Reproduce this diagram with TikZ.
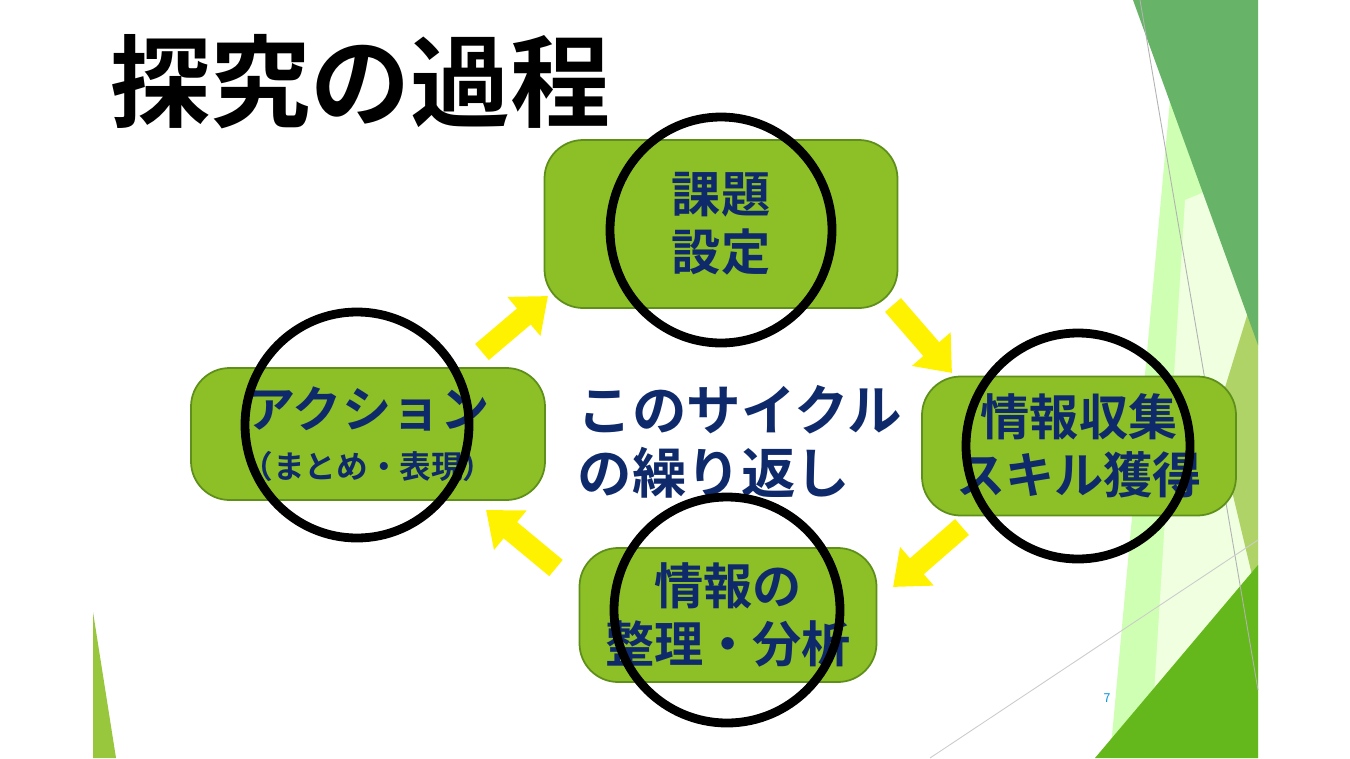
\documentclass[tikz,border=0pt]{standalone}
\usepackage{fontspec}
\setmainfont{Noto Sans CJK JP}[BoldFont={* Bold}]
\usetikzlibrary{arrows.meta}
\definecolor{boxgreen}{HTML}{8DC026}
\definecolor{boxline}{HTML}{5E8F1A}
\definecolor{navy}{HTML}{0F2A6A}
\tikzset{
  stepbox/.style={draw=boxline,fill=boxgreen,rounded corners=22pt,line width=1pt,
    text=navy,font=\bfseries\fontsize{28}{33}\selectfont,align=center,inner sep=0pt},
  ring/.style={draw=black,line width=5pt},
  cyclearrow/.style={yellow,line width=12pt,-{Triangle[length=18pt,width=28pt]}}
}
\begin{document}
\begin{tikzpicture}[x=0.02cm,y=-0.02cm]
    \useasboundingbox (0,0) rectangle (1350,758);
    % background
    \fill[white] (0,0) rectangle (1350,758);
    \fill[green!50!lime!30!white] (1170,100) -- (1258,280) -- (1258,758) -- (1110,758) -- cycle;
    \fill[green!35!lime!12!white] (1185,200) -- (1258,170) -- (1258,758) -- (1150,758) -- cycle;
    \fill[boxgreen!70!white] (1215,420) -- (1258,280) -- (1258,600) -- cycle;
    \fill[green!40!black!55!white!90!green] (1133,0) -- (1258,0) -- (1258,345) -- cycle;
    \fill[boxgreen!80!green!90!black] (1095,758) -- (1258,565) -- (1258,758) -- cycle;
    \fill[boxgreen!90!white] (93,612) -- (116,758) -- (93,758) -- cycle;
    \draw[gray!60,line width=.5pt] (1140,0) -- (1258,690);
    \draw[gray!40,line width=.5pt] (930,758) -- (1258,540);
    \node[text=cyan!80!blue,font=\fontsize{7}{8}\selectfont] (pagenum) at (1107,698) {7};

    % title
    \node[anchor=west,font=\bfseries\fontsize{57}{60}\selectfont] (title) at (104,82) {探究の過程};

    % boxes
    \node[stepbox,minimum width=353*0.02cm,minimum height=168*0.02cm] (kadai) at (721,224) {課題\\設定};
    \node[stepbox,minimum width=314*0.02cm,minimum height=139*0.02cm] (shushu) at (1079,446) {情報収集\\スキル獲得};
    \node[stepbox,minimum width=297*0.02cm,minimum height=134*0.02cm] (seiri) at (728,615) {情報の\\整理・分析};
    \node[stepbox,minimum width=354*0.02cm,minimum height=132*0.02cm] (action) at (368,434)
      {アクション\\[-4pt]{\fontsize{18}{22}\selectfont （まとめ・表現）}};

    % centre text
    \node[text=navy,font=\bfseries\fontsize{31}{36}\selectfont,align=left] (cycle) at (740,442)
      {このサイクル\\の繰り返し};

    % rings
    \draw[ring] (721,230) ellipse (111 and 113);
    \draw[ring] (1078,446) ellipse (112 and 113);
    \draw[ring] (727,610) ellipse (113 and 113);
    \draw[ring] (357,425) ellipse (112 and 113);

    % arrows
    \coordinate (a1s) at (482,352); \coordinate (a1e) at (548,296);
    \coordinate (a2s) at (893,305); \coordinate (a2e) at (952,373);
    \coordinate (a3s) at (962,527); \coordinate (a3e) at (893,587);
    \coordinate (a4s) at (556,568); \coordinate (a4e) at (486,510);
    \draw[cyclearrow] (a1s) -- (a1e);
    \draw[cyclearrow] (a2s) -- (a2e);
    \draw[cyclearrow] (a3s) -- (a3e);
    \draw[cyclearrow] (a4s) -- (a4e);
\end{tikzpicture}
\end{document}
